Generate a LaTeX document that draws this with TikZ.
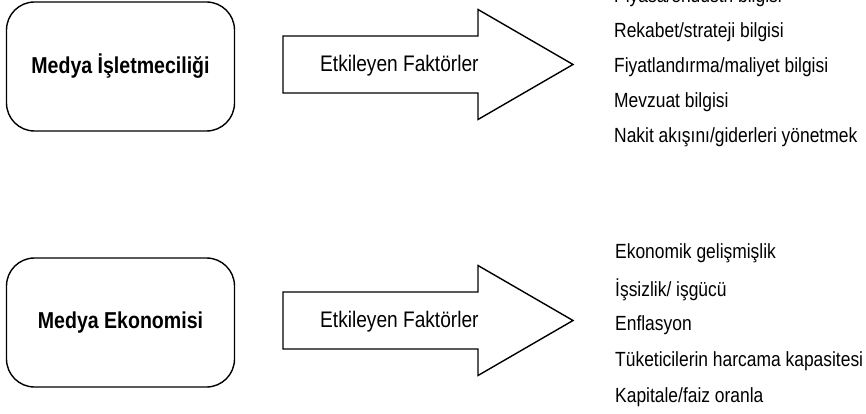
\documentclass[tikz,border=0pt]{standalone}
\usepackage{fontspec}
\setmainfont{Liberation Sans}[FakeStretch=0.85]
\usetikzlibrary{positioning}

\begin{document}
\begin{tikzpicture}[x=1pt, y=-1pt,
  konu/.style={draw, line width=1.4pt, rounded corners=28pt,
    minimum width=228pt, minimum height=129pt,
    font=\bfseries\fontsize{23}{27}\selectfont},
  ok/.style={draw, line width=1.4pt, line join=miter},
  etiket/.style={anchor=west, inner sep=0pt, font=\fontsize{22.5}{26}\selectfont},
  madde/.style={anchor=west, inner sep=0pt, font=\fontsize{20.5}{24}\selectfont}]
  \useasboundingbox (0,0) rectangle (866,414);
  \clip (0,0) rectangle (866,414);

  % --- Left boxes ---
  \node[konu] (isletme) at (120.5,66.5) {Medya İşletmeciliği};
  \node[konu] (ekonomi) at (120.5,322.5) {Medya Ekonomisi};

  % --- Block arrows (2) ---
  \foreach \y/\n in {64.5/ust, 320.5/alt} {
    \draw[ok] (283,\y-28.5) -- (478,\y-28.5) -- (478,\y-55) -- (573,\y)
      -- (478,\y+55) -- (478,\y+28.5) -- (283,\y+28.5) -- cycle;
    \node[etiket] (faktor-\n) at (320,\y+1) {Etkileyen Faktörler};
  }

  % --- Factor lists ---
  \node[madde] (p1) at (614,-2.5) {Piyasa/endüstri bilgisi};
  \node[madde] (p2) at (614,32) {Rekabet/strateji bilgisi};
  \node[madde] (p3) at (614,67) {Fiyatlandırma/maliyet bilgisi};
  \node[madde] (p4) at (614,102.5) {Mevzuat bilgisi};
  \node[madde] (p5) at (614,137.5) {Nakit akışını/giderleri yönetmek};

  \node[madde] (e1) at (615,253.5) {Ekonomik gelişmişlik};
  \node[madde] (e2) at (615,289.5) {İşsizlik/ işgücü};
  \node[madde] (e3) at (615,325) {Enflasyon};
  \node[madde] (e4) at (615,361) {Tüketicilerin harcama kapasitesi};
  \node[madde] (e5) at (615,397) {Kapitale/faiz oranla};

\end{tikzpicture}
\end{document}
